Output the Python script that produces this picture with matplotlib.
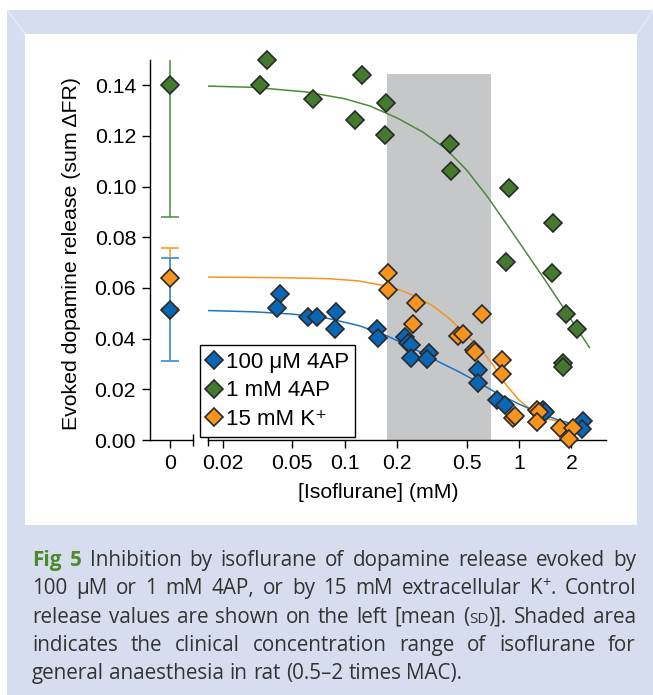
import numpy as np
import matplotlib
matplotlib.use('Agg')
import matplotlib.pyplot as plt
from matplotlib.patches import Rectangle
from matplotlib.lines import Line2D
from matplotlib.transforms import IdentityTransform
from matplotlib.ticker import FormatStrFormatter, NullFormatter

plt.rcParams['font.family'] = ['Liberation Sans', 'DejaVu Sans']

# ---------------- data ----------------
# control release (no isoflurane): mean and SD
ctrl_mean = {'100uM': 0.0515, '1mM': 0.140, '15K': 0.064}
ctrl_sd = {'100uM': 0.0205, '1mM': 0.052, '15K': 0.0118}

# 100 uM 4AP
x_100uM = [0.0427, 0.0408, 0.0615, 0.0697, 0.0896, 0.0876, 0.154, 0.155, 0.221, 0.231,
           0.241, 0.241, 0.305, 0.295, 0.584, 0.58, 0.75, 0.831, 1.38, 1.41, 2.34, 2.30]
y_100uM = [0.0577, 0.0523, 0.0485, 0.0487, 0.0507, 0.0438, 0.0437, 0.0404, 0.0406, 0.0384,
           0.0375, 0.0323, 0.0345, 0.0319, 0.0277, 0.0226, 0.0158, 0.0138, 0.0119, 0.0112, 0.0075, 0.0042]

# 1 mM 4AP
x_1mM = [0.0356, 0.0325, 0.0658, 0.125, 0.115, 0.172, 0.170, 0.401, 0.407, 0.876,
         1.567, 0.838, 1.54, 1.86, 2.145, 1.80, 1.79]
y_1mM = [0.150, 0.140, 0.1346, 0.1439, 0.1263, 0.133, 0.1203, 0.117, 0.106, 0.0993,
         0.0855, 0.0702, 0.0658, 0.0499, 0.044, 0.0305, 0.0287]

# 15 mM K+
x_15K = [0.177, 0.177, 0.258, 0.247, 0.61, 0.448, 0.475, 0.551, 0.558, 0.802,
         0.795, 0.927, 0.948, 1.264, 1.31, 1.264, 1.72, 2.03, 1.95]
y_15K = [0.0658, 0.0593, 0.054, 0.0458, 0.0497, 0.0411, 0.0419, 0.0356, 0.0349, 0.0316,
         0.0262, 0.0088, 0.0095, 0.0119, 0.0112, 0.007, 0.0049, 0.0046, 0.0002]

# fitted curves
fit_x_100uM = [0.0164, 0.03, 0.05, 0.08, 0.12, 0.17, 0.25, 0.35, 0.45, 0.57, 0.75, 1.0, 1.3, 1.7, 2.2, 2.45]
fit_y_100uM = [0.0511, 0.0506, 0.0497, 0.0480, 0.0452, 0.0415, 0.0360, 0.0307, 0.0270, 0.0232,
               0.0184, 0.0142, 0.0107, 0.0078, 0.0058, 0.0053]
fit_x_1mM = [0.0164, 0.03, 0.06, 0.1, 0.14, 0.2, 0.28, 0.38, 0.5, 0.65, 0.85, 1.1, 1.4, 1.8,
             2.2, 2.54]
fit_y_1mM = [0.1397, 0.1392, 0.1374, 0.1347, 0.1318, 0.1271, 0.1216, 0.1150, 0.1066, 0.0966,
             0.0852, 0.0740, 0.0635, 0.0522, 0.0430, 0.0365]
fit_x_15K = [0.0164, 0.04, 0.08, 0.12, 0.16, 0.2, 0.25, 0.32, 0.4, 0.5, 0.6, 0.72, 0.85, 1.0,
             1.2, 1.5, 1.9, 2.4]
fit_y_15K = [0.0643, 0.0641, 0.0637, 0.0628, 0.0612, 0.0596, 0.0570, 0.0530, 0.0478, 0.0415,
             0.0360, 0.0290, 0.0215, 0.0158, 0.0112, 0.0082, 0.0063, 0.0055]

clinical_range = (0.174, 0.69)
clinical_top = 0.1443

labels = ['100 μM 4AP', '1 mM 4AP', '15 mM K⁺']
xtick_vals = [0.02, 0.05, 0.1, 0.2, 0.5, 1, 2]
xtick_labels = ['0.02', '0.05', '0.1', '0.2', '0.5', '1', '2']
ytick_vals = [0.00, 0.02, 0.04, 0.06, 0.08, 0.10, 0.12, 0.14]

# ---------------- styles ----------------
c_blue, c_green, c_orange = '#0b66b5', '#437a2e', '#f7941e'
l_blue, l_green, l_orange = '#1c74c2', '#4b8a39', '#f7941e'
e_blue, e_orange = '#4593d6', '#f8a43c'
edge = '#2a2a2a'
frame_blue = '#d5ddef'
ms = 9.5
fs = 15.3

W, H = 653, 695
fig = plt.figure(figsize=(W / 100, H / 100), dpi=100)
fig.patch.set_facecolor('white')

# frame
fig.patches.append(Rectangle((7 / W, 0), (W - 7) / W, (H - 10) / H, transform=fig.transFigure,
                             facecolor=frame_blue, edgecolor='none', zorder=-10))
fig.patches.append(Rectangle((25 / W, 1 - 525 / H), 612 / W, 491 / H, transform=fig.transFigure,
                             facecolor='white', edgecolor='none', zorder=-9))
for (x1, y1, x2, y2) in [(7, 10, 25, 34), (W, 10, 637, 34)]:
    fig.lines.append(Line2D([x1 / W, x2 / W], [1 - y1 / H, 1 - y2 / H], transform=fig.transFigure,
                            color='#e6ebf6', lw=1, zorder=-8))

# ---------------- axes ----------------
y0, y1 = 440, 60
ax0 = fig.add_axes([150 / W, 1 - y0 / H, 43 / W, (y0 - y1) / H])
ax = fig.add_axes([208 / W, 1 - y0 / H, 398 / W, (y0 - y1) / H])
for a in (ax0, ax):
    a.set_facecolor('none')
    a.set_ylim(0, 0.15)
    a.spines['top'].set_visible(False)
    a.spines['right'].set_visible(False)
    for s in a.spines.values():
        s.set_linewidth(1.0)
    a.tick_params(which='major', length=6, width=1, labelsize=fs, pad=4)
    a.tick_params(axis='x', which='minor', direction='inout', length=8, width=1)

# control panel
ax0.set_xlim(-1, 1.15)
ax0.set_xticks([0])
ax0.set_xticklabels(['0'])
ax0.set_xticks([1.15], minor=True)
ax0.xaxis.set_minor_formatter(NullFormatter())
ax0.set_yticks(ytick_vals)
ax0.yaxis.set_major_formatter(FormatStrFormatter('%.2f'))

ax0.errorbar([0], [ctrl_mean['1mM']], yerr=[ctrl_sd['1mM']], fmt='none', ecolor=l_green,
             elinewidth=1.1, capsize=6.5, capthick=1.1)
ax0.errorbar([0], [ctrl_mean['15K']], yerr=[ctrl_sd['15K']], fmt='none', ecolor=e_orange,
             elinewidth=1.3, capsize=6.5, capthick=1.3)
ax0.errorbar([0], [ctrl_mean['100uM']], yerr=[ctrl_sd['100uM']], fmt='none', ecolor=e_blue,
             elinewidth=1.3, capsize=6.5, capthick=1.3)
for key, col in [('1mM', c_green), ('15K', c_orange), ('100uM', c_blue)]:
    ax0.plot([0], [ctrl_mean[key]], ls='none', marker='D', ms=ms, mfc=col, mec=edge, mew=1.2,
             clip_on=False, zorder=5)

# main panel
ax.set_xscale('log')
ax.set_xlim(0.0164, 3.16)
ax.spines['left'].set_visible(False)
ax.set_yticks([])
ax.set_xticks(xtick_vals)
ax.set_xticklabels(xtick_labels)
ax.set_xticks([0.0164], minor=True)
ax.xaxis.set_minor_formatter(NullFormatter())

ax.axvspan(clinical_range[0], clinical_range[1], ymin=0, ymax=clinical_top / 0.15,
           facecolor='#c6c7c9', edgecolor='none', zorder=0)

ax.plot(fit_x_1mM, fit_y_1mM, color=l_green, lw=1.1, zorder=2)
ax.plot(fit_x_15K, fit_y_15K, color=l_orange, lw=1.1, zorder=2)
ax.plot(fit_x_100uM, fit_y_100uM, color=l_blue, lw=1.1, zorder=2)

mk = dict(ls='none', marker='D', ms=ms, mec=edge, mew=1.2, clip_on=False)
ax.plot(x_100uM, y_100uM, mfc=c_blue, zorder=3, **mk)
ax.plot(x_15K, y_15K, mfc=c_orange, zorder=4, **mk)
ax.plot(x_1mM, y_1mM, mfc=c_green, zorder=5, **mk)

# labels
fig.text(72 / W, 1 - 253 / H, 'Evoked dopamine release (sum ΔFR)', rotation=90,
         ha='center', va='center', fontsize=fs)
fig.text(378 / W, 1 - 492 / H, '[Isoflurane] (mM)', ha='center', va='center', fontsize=fs)

handles = [Line2D([], [], ls='none', marker='D', ms=ms, mfc=c, mec=edge, mew=1.2)
           for c in (c_blue, c_green, c_orange)]
leg = fig.legend(handles, labels, loc='upper left', bbox_to_anchor=(200 / W, 1 - 345 / H),
                 fontsize=16, frameon=True, fancybox=False, framealpha=1, edgecolor='black',
                 borderpad=0.3, labelspacing=0.35, handlelength=0.7, handletextpad=0.15,
                 borderaxespad=0)
leg.get_frame().set_linewidth(1.0)

# ---------------- caption (justified) ----------------
renderer = fig.canvas.get_renderer()
cap = dict(family=['Open Sans', 'DejaVu Sans'], fontsize=14.9, color='#333333', va='baseline')
bold_green = dict(color='#4a8a2a', weight='bold')

cap_lines = [
    "Fig 5 Inhibition by isoflurane of dopamine release evoked by",
    "100 μM or 1 mM 4AP, or by 15 mM extracellular K+. Control",
    "release values are shown on the left [mean (SD)]. Shaded area",
    "indicates the clinical concentration range of isoflurane for",
    "general anaesthesia in rat (0.5–2 times MAC).",
]
special = {
    'K+.': [('K', {}), ('+', {'fontsize': 10.5, 'dy': 7}), ('.', {})],
    '(SD)].': [('(', {}), ('SD', {'fontsize': 11}), (')].', {})],
}
cap_x0, cap_x1 = 32, 636
cap_base = [566, 594, 623, 651, 679]


def make_word(runs):
    parts, w = [], 0
    for s, kw in runs:
        kw = dict(cap, **kw)
        dy = kw.pop('dy', 0)
        t = fig.text(0, 0, s, transform=IdentityTransform(), **kw)
        parts.append((t, w, dy))
        w += t.get_window_extent(renderer).width
    return parts, w


for i, line in enumerate(cap_lines):
    words = []
    for j, wd in enumerate(line.split(' ')):
        if i == 0 and j < 2:
            runs = [(wd, bold_green)]
        else:
            runs = special.get(wd, [(wd, {})])
        words.append(make_word(runs))
    total = sum(w for _, w in words)
    if i < len(cap_lines) - 1:
        gap = (cap_x1 - cap_x0 - total) / (len(words) - 1)
    else:
        gap = 0.26 * cap['fontsize'] * 100 / 72
    x = cap_x0
    yb = H - cap_base[i]
    for parts, w in words:
        for t, off, dy in parts:
            t.set_position((x + off, yb + dy))
        x += w + gap

fig.savefig('out.png', dpi=100)
